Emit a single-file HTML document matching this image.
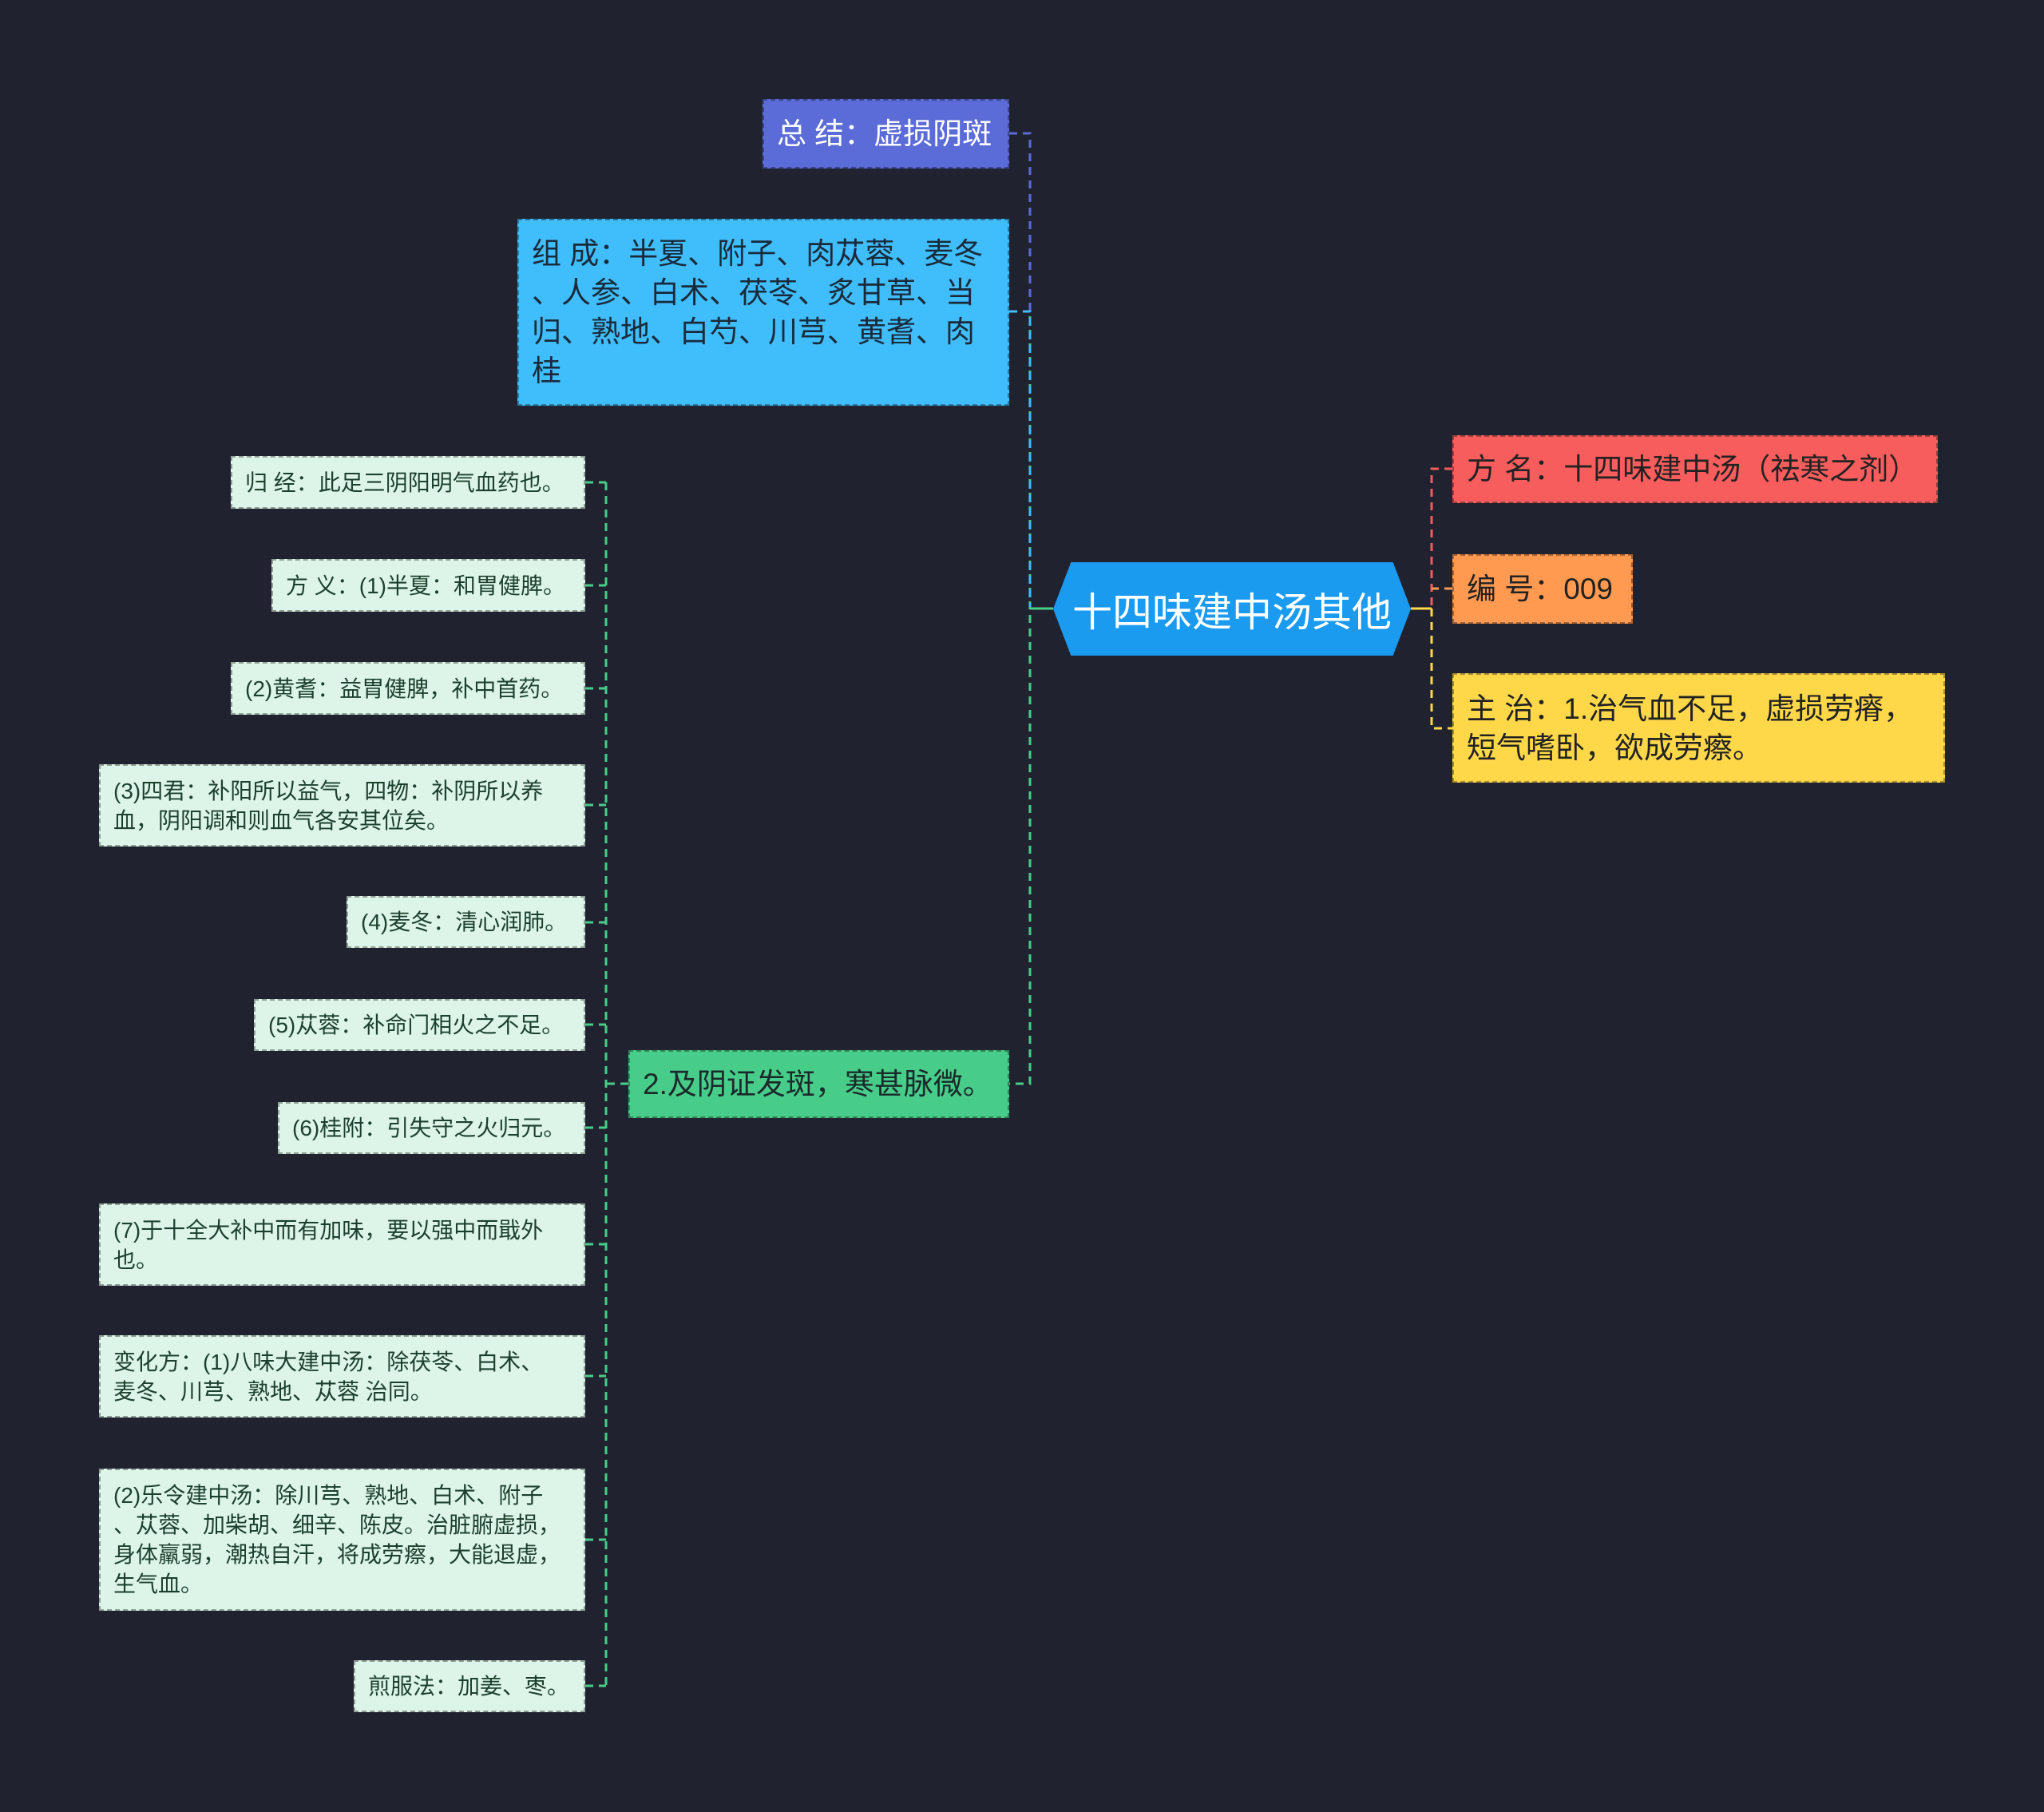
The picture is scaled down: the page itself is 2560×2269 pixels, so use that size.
<!DOCTYPE html>
<html><head><meta charset="utf-8"><style>
body{margin:0;width:2560px;height:2269px;background:#20232f;position:relative;overflow:hidden;font-family:"Liberation Sans","Noto Sans CJK SC",sans-serif}
.b{position:absolute;box-sizing:border-box;display:flex;align-items:center;padding:0 16px;border:2px dashed rgba(0,0,0,.35);white-space:nowrap}
.l{background:#ddf5e8;color:#1d3f2e;font-size:28px;line-height:37px;justify-content:flex-start}
.t{font-size:37px;line-height:49px;color:#222}
svg{position:absolute;left:0;top:0}
</style></head><body>
<svg width="2560" height="2269" fill="none" stroke-width="3" stroke-dasharray="10,7">
<path d="M1264 167 H1290 V1357 H1264" stroke="#48cc8a"/>
<path d="M1264 167 H1290 V390" stroke="#5b6bd8"/>
<path d="M1264 390 H1290 V760" stroke="#40bdfb"/>
<path d="M1290 762 H1319" stroke="#48cc8a" stroke-dasharray="none"/>
<path d="M1767 762 H1793" stroke="#ffd84a" stroke-dasharray="none"/>
<path d="M1819 587 H1793 V762" stroke="#f25c5c"/>
<path d="M1819 737 H1793" stroke="#ff9a50"/>
<path d="M1793 762 V912 H1819" stroke="#ffd84a"/>
<path d="M787 1357 H759 M759 604 V2111" stroke="#48cc8a"/>
<path d="M733 604H759M733 733H759M733 862H759M733 1008H759M733 1155H759M733 1283H759M733 1412H759M733 1558H759M733 1723H759M733 1928H759M733 2111H759" stroke="#48cc8a"/>
</svg>
<div class="b t" style="left:955px;top:124px;width:309px;height:87px;background:#5b6bd8;color:#fff">总 结：虚损阴斑</div>
<div class="b t" style="left:648px;top:274px;width:616px;height:234px;background:#40bdfb;color:#1a2a3a">组 成：半夏、附子、肉苁蓉、麦冬<br>、人参、白术、茯苓、炙甘草、当<br>归、熟地、白芍、川芎、黄耆、肉<br>桂</div>
<div class="b t" style="left:787px;top:1315px;width:477px;height:85px;background:#48cc8a;color:#1a2a2a">2.及阴证发斑，寒甚脉微。</div>
<div style="position:absolute;left:1319px;top:704px;width:448px;height:117px;background:#1a9bf0;clip-path:polygon(5% 0,95% 0,100% 50%,95% 100%,5% 100%,0 50%);color:#fff;font-size:50px;display:flex;align-items:center;justify-content:center">十四味建中汤其他</div>
<div class="b t" style="left:1819px;top:545px;width:608px;height:85px;background:#f75d5d">方 名：十四味建中汤（祛寒之剂）</div>
<div class="b t" style="left:1819px;top:694px;width:226px;height:87px;background:#ff9a50">编 号：009</div>
<div class="b t" style="left:1819px;top:843px;width:617px;height:137px;background:#ffd84a">主 治：1.治气血不足，虚损劳瘠，<br>短气嗜卧，欲成劳瘵。</div>
<div class="b l" style="left:289px;top:571px;width:444px;height:66px">归 经：此足三阴阳明气血药也。</div>
<div class="b l" style="left:340px;top:700px;width:393px;height:66px">方 义：(1)半夏：和胃健脾。</div>
<div class="b l" style="left:289px;top:829px;width:444px;height:66px">(2)黄耆：益胃健脾，补中首药。</div>
<div class="b l" style="left:124px;top:957px;width:609px;height:103px">(3)四君：补阳所以益气，四物：补阴所以养<br>血，阴阳调和则血气各安其位矣。</div>
<div class="b l" style="left:434px;top:1122px;width:299px;height:65px">(4)麦冬：清心润肺。</div>
<div class="b l" style="left:318px;top:1251px;width:415px;height:65px">(5)苁蓉：补命门相火之不足。</div>
<div class="b l" style="left:348px;top:1380px;width:385px;height:65px">(6)桂附：引失守之火归元。</div>
<div class="b l" style="left:124px;top:1507px;width:609px;height:103px">(7)于十全大补中而有加味，要以强中而戢外<br>也。</div>
<div class="b l" style="left:124px;top:1672px;width:609px;height:103px">变化方：(1)八味大建中汤：除茯苓、白术、<br>麦冬、川芎、熟地、苁蓉 治同。</div>
<div class="b l" style="left:124px;top:1839px;width:609px;height:178px">(2)乐令建中汤：除川芎、熟地、白术、附子<br>、苁蓉、加柴胡、细辛、陈皮。治脏腑虚损，<br>身体羸弱，潮热自汗，将成劳瘵，大能退虚，<br>生气血。</div>
<div class="b l" style="left:443px;top:2079px;width:290px;height:65px">煎服法：加姜、枣。</div>
</body></html>
